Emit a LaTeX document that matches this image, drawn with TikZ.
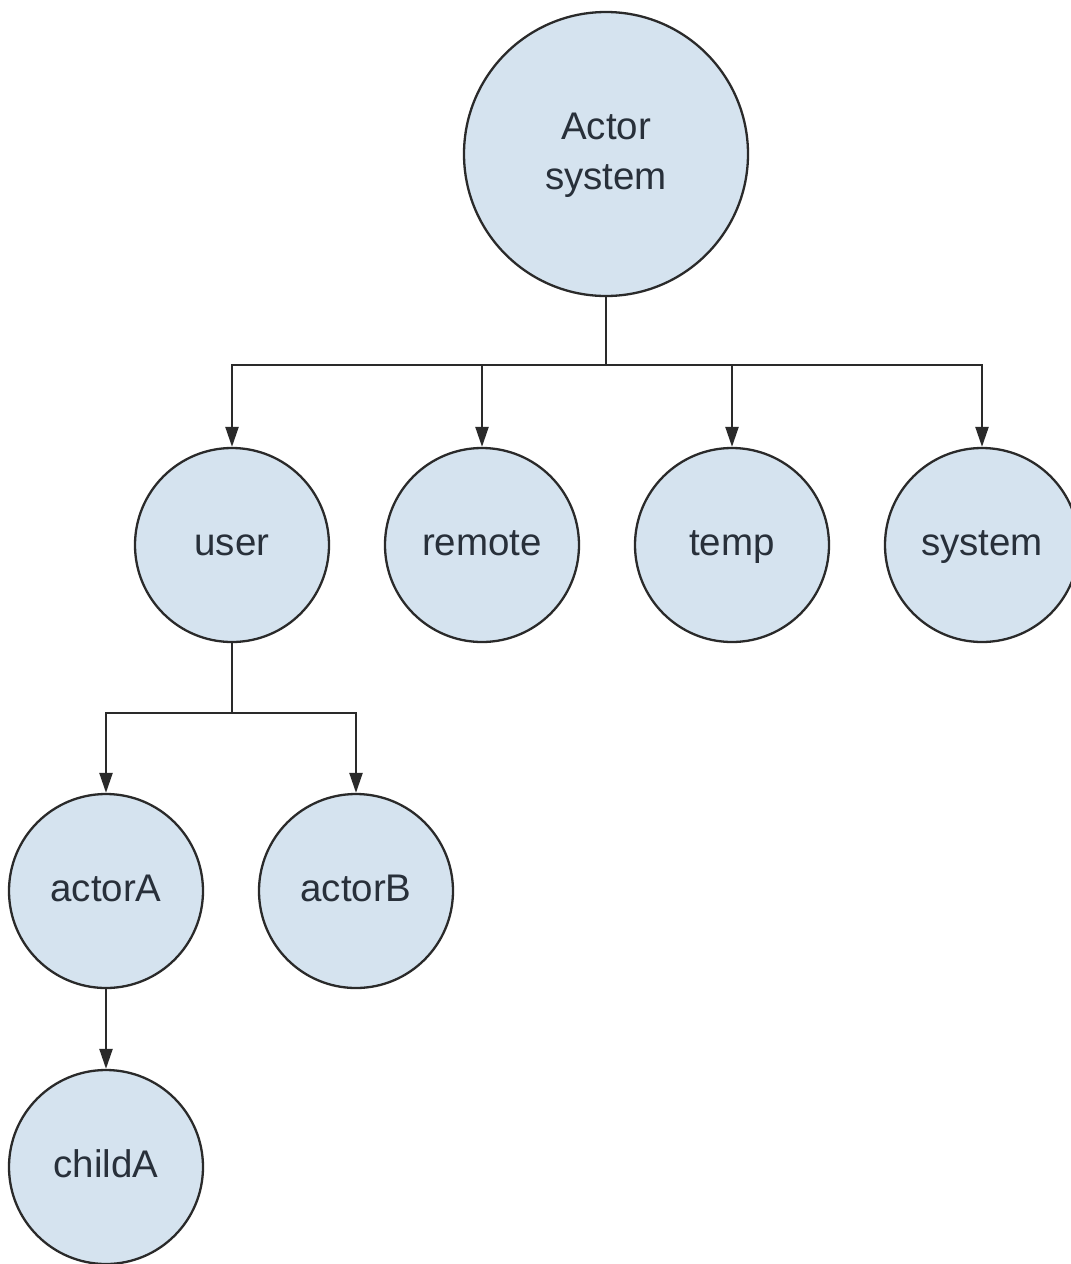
\documentclass[tikz,border=0pt]{standalone}
\usepackage{fontspec}
\setmainfont{Liberation Sans}
\usetikzlibrary{arrows.meta}
\definecolor{nodefill}{HTML}{D5E3EF}
\definecolor{linecol}{HTML}{2A2A2A}
\definecolor{textcol}{HTML}{28303A}
\begin{document}
\begin{tikzpicture}[x=1pt,y=-1pt,
  actor/.style={circle,draw=linecol,fill=nodefill,line width=2.3pt,
    minimum size=194pt,inner sep=0pt,text=textcol,align=center,
    font=\fontsize{38.5}{50}\selectfont},
  bigactor/.style={actor,minimum size=284pt},
  link/.style={draw=linecol,line width=2.3pt},
  arr/.style={link,-{Triangle[length=20pt,width=13pt]}}]
\useasboundingbox[fill=white] (0,0) rectangle (1071,1264);

% nodes (struts keep every label on the same baseline)
\node[bigactor] (root) at (606,154) {\strut Actor\\\strut system};
\node[actor] (user)   at (232,545) {\strut user};
\node[actor] (remote) at (482,545) {\strut remote};
\node[actor] (temp)   at (732,545) {\strut temp};
\node[actor] (sys)    at (982,545) {\strut system};
\node[actor] (actA)   at (106,891) {\strut actorA};
\node[actor] (actB)   at (356,891) {\strut actorB};
\node[actor] (childA) at (106,1167) {\strut childA};

% junctions
\coordinate (j1) at (606,365);
\coordinate (j2) at (232,713);

% connectors
\draw[link] (root.south) -- (j1);
\draw[arr] (j1) -| (user.north);
\draw[arr] (j1) -| (remote.north);
\draw[arr] (j1) -| (temp.north);
\draw[arr] (j1) -| (sys.north);
\draw[link] (user.south) -- (j2);
\draw[arr] (j2) -| (actA.north);
\draw[arr] (j2) -| (actB.north);
\draw[arr] (actA.south) -- (childA.north);
\end{tikzpicture}
\end{document}
